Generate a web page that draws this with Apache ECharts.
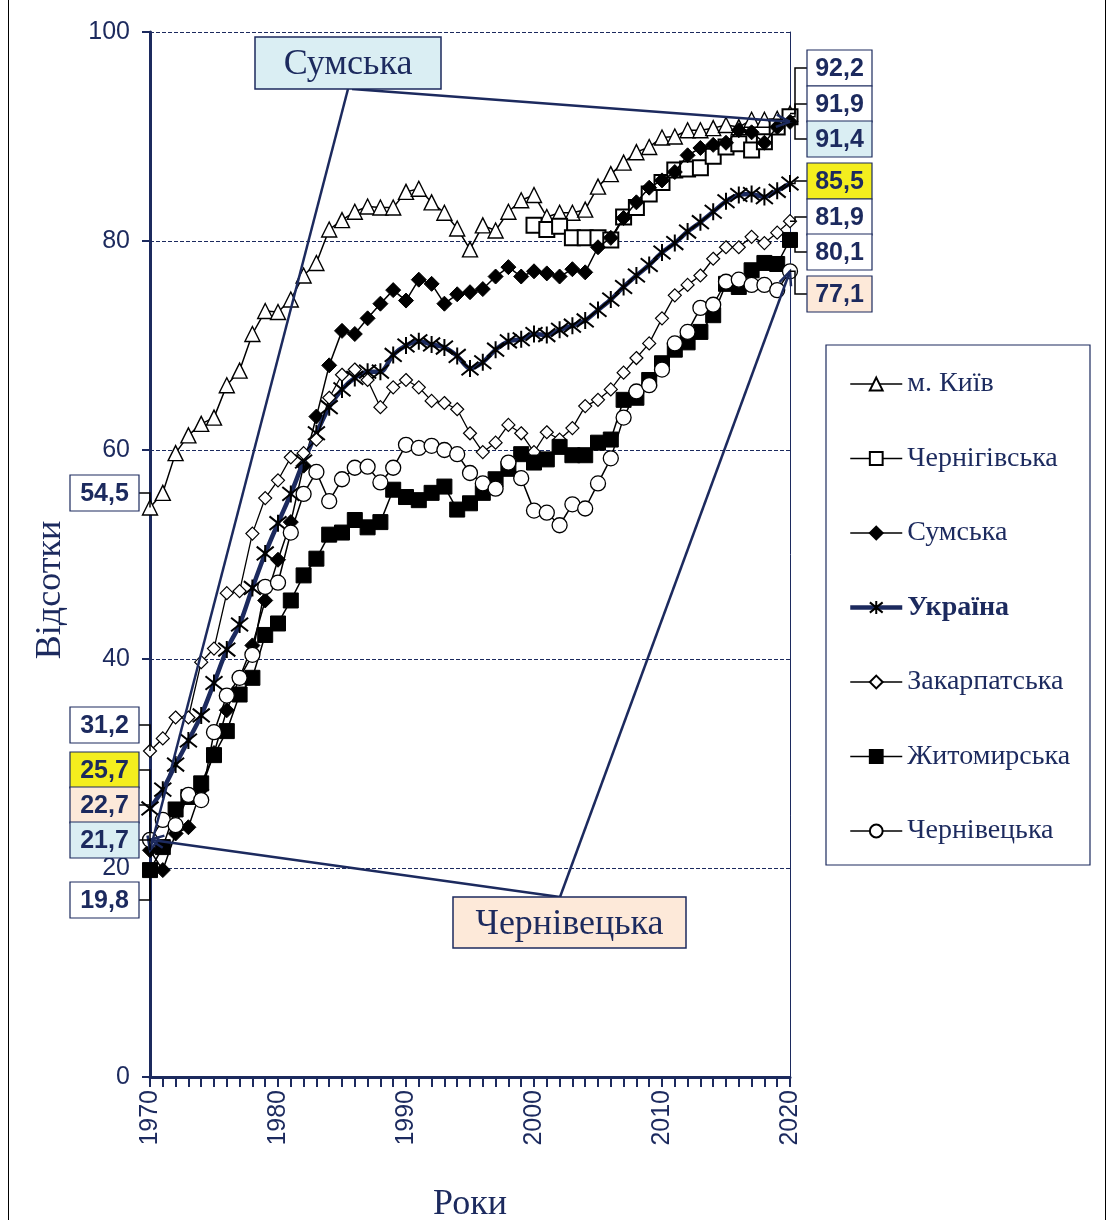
<!DOCTYPE html>
<html>
<head>
<meta charset="utf-8">
<script src="https://cdn.jsdelivr.net/npm/echarts@6.0.0/dist/echarts.min.js"></script>
<style>
html, body { margin: 0; padding: 0; background: #fff; }
#main { width: 1110px; height: 1220px; }
</style>
</head>
<body>
<div id="main"></div>
<script>
var NAVY = '#1c2a5e';

// роки
var years = [1970, 1971, 1972, 1973, 1974, 1975, 1976, 1977, 1978, 1979,
	1980, 1981, 1982, 1983, 1984, 1985, 1986, 1987, 1988, 1989,
	1990, 1991, 1992, 1993, 1994, 1995, 1996, 1997, 1998, 1999,
	2000, 2001, 2002, 2003, 2004, 2005, 2006, 2007, 2008, 2009,
	2010, 2011, 2012, 2013, 2014, 2015, 2016, 2017, 2018, 2019, 2020];

/*м. Київ*/
var kyiv = [54.5, 55.9, 59.7, 61.4, 62.5, 63.1, 66.2, 67.6, 71.1, 73.3,
	73.2, 74.4, 76.7, 77.9, 81.1, 82.0, 82.8, 83.3, 83.2, 83.2,
	84.7, 85.0, 83.7, 82.7, 81.2, 79.2, 81.5, 81.0, 82.8, 83.9,
	84.4, 82.3, 82.7, 82.7, 83.0, 85.2, 86.4, 87.5, 88.5, 89.0,
	89.9, 90.0, 90.6, 90.6, 90.8, 91.1, 90.9, 91.6, 91.6, 91.7, 92.2];
/*Чернігівська*/
var chernihiv = [null, null, null, null, null, null, null, null, null, null,
	null, null, null, null, null, null, null, null, null, null,
	null, null, null, null, null, null, null, null, null, null,
	81.5, 81.1, 81.4, 80.3, 80.3, 80.3, 80.1, 82.3, 83.2, 84.5,
	85.6, 86.8, 86.9, 87.0, 88.1, 89.0, 89.3, 88.7, 89.5, 90.9, 91.9];
/*Сумська*/
var sumy = [21.7, 19.8, 23.3, 23.9, 27.5, 31.0, 35.1, 38.2, 41.3, 45.6,
	49.5, 53.1, 58.5, 63.2, 68.1, 71.4, 71.1, 72.6, 74.0, 75.3,
	74.3, 76.3, 75.9, 74.0, 74.9, 75.1, 75.4, 76.6, 77.5, 76.6,
	77.1, 76.9, 76.6, 77.3, 77.0, 79.4, 80.3, 82.2, 83.7, 85.1,
	85.8, 86.6, 88.2, 88.9, 89.2, 89.4, 90.6, 90.4, 89.4, 90.9, 91.4];
/*Україна*/
var ukraine = [25.7, 27.5, 29.9, 32.2, 34.6, 37.7, 40.9, 43.3, 46.8, 50.1,
	53.0, 55.8, 58.9, 61.6, 64.1, 65.8, 66.9, 67.5, 67.5, 69.1,
	70.0, 70.4, 70.1, 69.8, 69.0, 67.8, 68.4, 69.6, 70.4, 70.6,
	71.1, 71.0, 71.5, 71.9, 72.4, 73.4, 74.4, 75.6, 76.7, 77.7,
	78.9, 79.8, 80.9, 81.8, 82.8, 83.8, 84.4, 84.5, 84.2, 84.8, 85.5];
/*Закарпатська*/
var zakarpattia = [31.2, 32.4, 34.4, 34.4, 39.7, 41.0, 46.3, 46.5, 52.0, 55.4,
	57.1, 59.3, 59.7, 61.0, 65.0, 67.2, 67.7, 66.7, 64.1, 66.0,
	66.7, 66.0, 64.7, 64.5, 63.9, 61.6, 59.8, 60.7, 62.4, 61.6,
	59.8, 61.7, 61.0, 62.1, 64.2, 64.8, 65.8, 67.4, 68.8, 70.2,
	72.6, 74.8, 75.8, 76.7, 78.3, 79.4, 79.4, 80.4, 79.8, 80.8, 81.9];
/*Житомирська*/
var zhytomyr = [19.8, 22.0, 25.6, 26.8, 28.1, 30.8, 33.1, 36.6, 38.2, 42.3,
	43.4, 45.6, 48.0, 49.6, 51.9, 52.1, 53.3, 52.6, 53.1, 56.2,
	55.5, 55.2, 55.9, 56.5, 54.3, 54.9, 55.9, 57.2, 58.2, 59.6,
	58.8, 59.1, 60.3, 59.5, 59.5, 60.7, 61.0, 64.8, 65.0, 66.7,
	68.3, 69.6, 70.3, 71.3, 72.9, 75.9, 75.6, 77.2, 77.9, 77.8, 80.1];
/*Чернівецька*/
var chernivtsi = [22.7, 24.6, 24.1, 27.0, 26.5, 33.0, 36.5, 38.2, 40.4, 46.9,
	47.3, 52.1, 55.8, 57.9, 55.1, 57.2, 58.3, 58.4, 56.9, 58.3,
	60.5, 60.2, 60.4, 60.0, 59.6, 57.8, 56.8, 56.3, 58.8, 57.3,
	54.2, 54.0, 52.8, 54.8, 54.4, 56.8, 59.2, 63.1, 65.6, 66.2,
	67.7, 70.2, 71.3, 73.6, 73.9, 76.1, 76.3, 75.8, 75.8, 75.3, 77.1];

var seriesNames = ['м. Київ', 'Чернігівська', 'Сумська', 'Україна', 'Закарпатська', 'Житомирська', 'Чернівецька'];
var seriesValues = [kyiv, chernihiv, sumy, ukraine, zakarpattia, zhytomyr, chernivtsi];

var chart = echarts.init(document.getElementById('main'));

function toPairs(vals) {
	var out = [];
	for(var i = 0; i < years.length; i++) {
		if(vals[i] !== null) out.push([years[i], vals[i]]);
	}
	return out;
}

var ASTERISK = 'path://M2,2L18,18M18,2L2,18M10,0L10,20';

// стилі рядів
var styles = [
	{ symbol: 'triangle', size: 15, fill: '#fff', lw: 1.5, bw: 1.4 },
	{ symbol: 'rect', size: 15, fill: '#fff', lw: 2, bw: 2 },
	{ symbol: 'diamond', size: 15, fill: '#000', lw: 1.5, bw: 1 },
	{ symbol: ASTERISK, size: 17, fill: '#000', lw: 4.5, bw: 2, line: NAVY, smooth: 0.3 },
	{ symbol: 'diamond', size: 13, fill: '#fff', lw: 1.3, bw: 1.2 },
	{ symbol: 'rect', size: 15, fill: '#000', lw: 1.5, bw: 1 },
	{ symbol: 'circle', size: 15, fill: '#fff', lw: 1.5, bw: 1.3 }
];

var series = [];
var legendData = [];
for(var s = 0; s < seriesNames.length; s++) {
	var st = styles[s];
	series.push({
		name: seriesNames[s],
		type: 'line',
		data: toPairs(seriesValues[s]),
		symbol: st.symbol,
		symbolSize: st.size,
		showAllSymbol: true,
		smooth: st.smooth || false,
		itemStyle: { color: st.fill, borderColor: '#000', borderWidth: st.bw, opacity: 1 },
		lineStyle: { color: st.line || '#000', width: st.lw },
		emphasis: { disabled: true },
		z: 2 + s
	});
	legendData.push({
		name: seriesNames[s],
		lineStyle: { color: st.line || '#000', width: st.line ? 4.5 : 1.5 }
	});
}

var option = {
	animation: false,
	backgroundColor: '#fff',
	grid: { left: 150, right: 320, top: 32, bottom: 143, outerBoundsMode: 'none' },
	legend: {
		orient: 'vertical',
		left: 843,
		top: 364,
		itemWidth: 52,
		itemHeight: 16,
		itemGap: 44.5,
		data: legendData,
		formatter: function(name) {
			return name === 'Україна' ? '{b|' + name + '}' : name;
		},
		textStyle: {
			fontFamily: 'Liberation Serif',
			fontSize: 28,
			lineHeight: 30,
			color: NAVY,
			rich: { b: { fontFamily: 'Liberation Serif', fontSize: 28, fontWeight: 'bold', color: NAVY } }
		}
	},
	xAxis: {
		type: 'value',
		min: 1970,
		max: 2020,
		interval: 10,
		name: 'Роки',
		nameLocation: 'middle',
		nameGap: 110,
		nameTextStyle: { fontFamily: 'Liberation Serif', fontSize: 36, color: NAVY },
		axisLine: { lineStyle: { color: NAVY, width: 3 } },
		axisTick: { show: true, length: 10, lineStyle: { color: NAVY, width: 2 } },
		minorTick: { show: true, splitNumber: 10, length: 10, lineStyle: { color: NAVY, width: 2 } },
		axisLabel: {
			rotate: 90, margin: 13, fontFamily: 'Liberation Sans', fontSize: 25, color: NAVY,
			formatter: function(v) { return String(v); }
		},
		splitLine: { show: false }
	},
	yAxis: [{
		type: 'value',
		min: 0,
		max: 100,
		interval: 20,
		axisLine: { show: true, lineStyle: { color: NAVY, width: 3 } },
		axisTick: { show: true, length: 8, lineStyle: { color: NAVY, width: 2 } },
		axisLabel: { margin: 20, fontFamily: 'Liberation Sans', fontSize: 25, color: NAVY },
		splitLine: { show: true, lineStyle: { color: NAVY, width: 1, type: [4, 2] } }
	}, {
		type: 'value',
		min: 0,
		max: 100,
		position: 'right',
		axisLine: { show: true, lineStyle: { color: NAVY, width: 1 } },
		axisTick: { show: false },
		axisLabel: { show: false },
		splitLine: { show: false }
	}],
	series: series
};
chart.setOption(option);

/*підписи значень*/
function fmt(v) {
	return v.toFixed(1).replace('.', ',');
}
function pt(idx, i) {
	return chart.convertToPixel({ xAxisIndex: 0, yAxisIndex: 0 }, [years[i], seriesValues[idx][i]]);
}

var leftLayout = [
	{ idx: 0, top: 475, bg: '#ffffff' },
	{ idx: 4, top: 707, bg: '#ffffff' },
	{ idx: 3, top: 752, bg: '#f4ee1e' },
	{ idx: 6, top: 787, bg: '#fde9d9' },
	{ idx: 2, top: 822, bg: '#daeef3' },
	{ idx: 5, top: 882, bg: '#ffffff' }
];
var rightLayout = [
	{ idx: 0, top: 50, bg: '#ffffff' },
	{ idx: 1, top: 86, bg: '#ffffff' },
	{ idx: 2, top: 121, bg: '#daeef3' },
	{ idx: 3, top: 163, bg: '#f4ee1e' },
	{ idx: 4, top: 199, bg: '#ffffff' },
	{ idx: 5, top: 234, bg: '#ffffff' },
	{ idx: 6, top: 276, bg: '#fde9d9' }
];

var graphics = [];
var last = years.length - 1;

function valueBox(x, top, w, text, bg) {
	graphics.push({
		type: 'rect', z: 200,
		shape: { x: x, y: top, width: w, height: 36 },
		style: { fill: bg, stroke: NAVY, lineWidth: 1.2 }
	});
	graphics.push({
		type: 'text', z: 201,
		x: x + w / 2, y: top + 19,
		style: {
			text: text, fill: NAVY, align: 'center', verticalAlign: 'middle',
			font: 'bold 25px "Liberation Sans"'
		}
	});
}

leftLayout.forEach(function(l) {
	var p = pt(l.idx, 0);
	var mid = l.top + 18;
	graphics.push({
		type: 'polyline', z: 150,
		shape: { points: [[139, mid], [p[0], mid], [p[0], p[1]]] },
		style: { stroke: '#000', lineWidth: 1.5, fill: null }
	});
	valueBox(70, l.top, 69, fmt(seriesValues[l.idx][0]), l.bg);
});

rightLayout.forEach(function(l) {
	var p = pt(l.idx, last);
	var mid = l.top + 18;
	graphics.push({
		type: 'polyline', z: 150,
		shape: { points: [[807, mid], [p[0] + 5, mid], [p[0] + 5, p[1]], [p[0], p[1]]] },
		style: { stroke: '#000', lineWidth: 1.5, fill: null }
	});
	valueBox(807, l.top, 65, fmt(seriesValues[l.idx][last]), l.bg);
});

/*виноски зі стрілками*/
function arrowLine(from, to) {
	var ang = Math.atan2(to[1] - from[1], to[0] - from[0]);
	var L = 15, a = 0.42;
	var p1 = [to[0] - L * Math.cos(ang - a), to[1] - L * Math.sin(ang - a)];
	var p2 = [to[0] - L * Math.cos(ang + a), to[1] - L * Math.sin(ang + a)];
	graphics.push({
		type: 'polyline', z: 120,
		shape: { points: [from, to] },
		style: { stroke: NAVY, lineWidth: 2.5, fill: null }
	});
	graphics.push({
		type: 'polyline', z: 120,
		shape: { points: [p1, to, p2] },
		style: { stroke: NAVY, lineWidth: 2.5, fill: null }
	});
}
function callout(x, y, w, h, text, bg) {
	graphics.push({
		type: 'rect', z: 130,
		shape: { x: x, y: y, width: w, height: h },
		style: { fill: bg, stroke: NAVY, lineWidth: 1.5 }
	});
	graphics.push({
		type: 'text', z: 131,
		x: x + w / 2, y: y + h / 2 + 2,
		style: {
			text: text, fill: NAVY, align: 'center', verticalAlign: 'middle',
			font: '36px "Liberation Serif"'
		}
	});
}

arrowLine([348, 89], pt(2, 0));
arrowLine([352, 89], pt(2, last));
callout(255, 37, 186, 52, 'Сумська', '#daeef3');

arrowLine([560, 897], pt(6, 0));
arrowLine([560, 897], pt(6, last));
callout(453, 897, 233, 51, 'Чернівецька', '#fde9d9');

/*назва осі Y*/
graphics.push({
	type: 'text', z: 50,
	x: 51, y: 590, rotation: Math.PI / 2,
	style: {
		text: 'Відсотки', fill: NAVY, align: 'center', verticalAlign: 'middle',
		font: '36px "Liberation Serif"'
	}
});

/*рамка легенди*/
graphics.push({
	type: 'rect', z: 0,
	shape: { x: 826, y: 345, width: 264, height: 520 },
	style: { fill: '#fff', stroke: NAVY, lineWidth: 1.2 }
});
/*зовнішня рамка*/
graphics.push({
	type: 'polyline', z: 0,
	shape: { points: [[8.5, 0], [8.5, 1220]] },
	style: { stroke: '#000', lineWidth: 1, fill: null }
});
graphics.push({
	type: 'polyline', z: 0,
	shape: { points: [[1105.5, 0], [1105.5, 1220]] },
	style: { stroke: '#000', lineWidth: 1, fill: null }
});

chart.setOption({ graphic: graphics });
</script>
</body>
</html>
